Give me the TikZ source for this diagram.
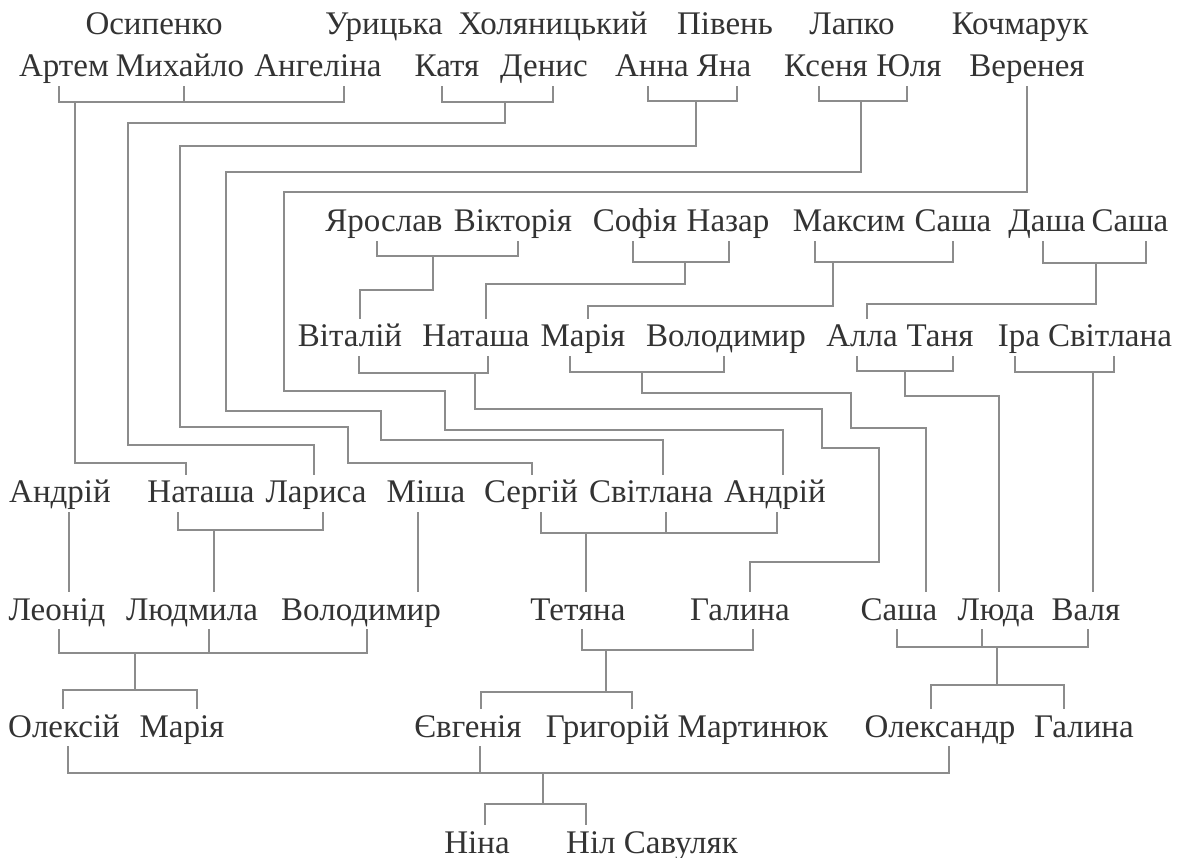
\documentclass[tikz,border=0pt]{standalone}
\usepackage{fontspec}
\setmainfont{Liberation Serif}
\definecolor{txt}{HTML}{333333}
\definecolor{lnc}{HTML}{8C8C8C}
\begin{document}
\begin{tikzpicture}[x=1pt,y=-1pt,
  nm/.style={text=txt,font=\fontsize{33}{33}\selectfont,inner sep=0pt,anchor=base,text height=28pt,text depth=9pt},
  ln/.style={draw=lnc,line width=1.3pt}]
\useasboundingbox[fill=white] (0,0) rectangle (1179,858);
% row 1 (surnames)
\node[nm] (s1) at (154,35) {Осипенко};
\node[nm] (s2) at (384,35) {Урицька};
\node[nm] (s3) at (553,35) {Холяницький};
\node[nm] (s4) at (725,35) {Півень};
\node[nm] (s5) at (852,35) {Лапко};
\node[nm] (s6) at (1020,35) {Кочмарук};
% row 2
\node[nm] (artem) at (64,77) {Артем};
\node[nm] (mykh) at (180,77) {Михайло};
\node[nm] (angel) at (318,77) {Ангеліна};
\node[nm] (katya) at (447,77) {Катя};
\node[nm] (denys) at (544,77) {Денис};
\node[nm] (anna) at (652,77) {Анна};
\node[nm] (yana) at (724,77) {Яна};
\node[nm] (ksenya) at (826,77) {Ксеня};
\node[nm] (yulia) at (909,77) {Юля};
\node[nm] (verenea) at (1027,77) {Веренея};
% row 3
\node[nm] (yaroslav) at (384,232) {Ярослав};
\node[nm] (viktoria) at (513,232) {Вікторія};
\node[nm] (sofia) at (635,232) {Софія};
\node[nm] (nazar) at (728,232) {Назар};
\node[nm] (maksym) at (849,232) {Максим};
\node[nm] (sashaA) at (953,232) {Саша};
\node[nm] (dasha) at (1047,232) {Даша};
\node[nm] (sashaB) at (1130,232) {Саша};
% row 4
\node[nm] (vitaliy) at (350,347) {Віталій};
\node[nm] (natashaA) at (476,347) {Наташа};
\node[nm] (mariaA) at (583,347) {Марія};
\node[nm] (volodA) at (726,347) {Володимир};
\node[nm] (alla) at (862,347) {Алла};
\node[nm] (tanya) at (940,347) {Таня};
\node[nm] (ira) at (1019,347) {Іра};
\node[nm] (svitA) at (1110,347) {Світлана};
% row 5
\node[nm] (andriyA) at (60,503) {Андрій};
\node[nm] (natashaB) at (201,503) {Наташа};
\node[nm] (larysa) at (316,503) {Лариса};
\node[nm] (misha) at (426,503) {Міша};
\node[nm] (serhiy) at (531,503) {Сергій};
\node[nm] (svitB) at (651,503) {Світлана};
\node[nm] (andriyB) at (775,503) {Андрій};
% row 6
\node[nm] (leonid) at (57,620) {Леонід};
\node[nm] (ludmyla) at (192,620) {Людмила};
\node[nm] (volodB) at (361,620) {Володимир};
\node[nm] (tetyana) at (578,620) {Тетяна};
\node[nm] (halynaA) at (740,620) {Галина};
\node[nm] (sashaC) at (899,620) {Саша};
\node[nm] (luda) at (996,620) {Люда};
\node[nm] (valya) at (1086,620) {Валя};
% row 7
\node[nm] (oleksiy) at (64,737) {Олексій};
\node[nm] (mariaB) at (182,737) {Марія};
\node[nm] (yevh) at (468,737) {Євгенія};
\node[nm] (hryh) at (687,737) {Григорій Мартинюк};
\node[nm] (oleksandr) at (940,737) {Олександр};
\node[nm] (halynaB) at (1084,737) {Галина};
% row 8
\node[nm] (nina) at (477,853) {Ніна};
\node[nm] (nil) at (652,853) {Ніл Савуляк};

% --- Osypenko
\draw[ln] ([xshift=-5pt]artem.south) -- (59,102) -| ([xshift=26pt]angel.south);
\draw[ln] ([xshift=4pt]mykh.south) -- (184,102);
\draw[ln] (75,102) |- (186,463) -- ([xshift=-15pt]natashaB.north);
% --- Urytska
\draw[ln] ([xshift=-5pt]katya.south) -- (442,102) -| ([xshift=9pt]denys.south);
\draw[ln] (505,102) |- (128,123) |- (314,445) -- ([xshift=-2pt]larysa.north);
% --- Piven
\draw[ln] ([xshift=-4pt]anna.south) -- (648,101) -| ([xshift=13pt]yana.south);
\draw[ln] (696,101) |- (180,146) |- (348,427) |- (532,463) -- ([xshift=1pt]serhiy.north);
% --- Lapko
\draw[ln] ([xshift=-7pt]ksenya.south) -- (819,101) -| ([xshift=-2pt]yulia.south);
\draw[ln] (861,101) |- (226,172) |- (381,411) |- (663,440) -- ([xshift=12pt]svitB.north);
% --- Kochmaruk
\draw[ln] (verenea.south) |- (284,192) |- (445,391) |- (783,430) -- ([xshift=8pt]andriyB.north);
% --- row 3
\draw[ln] ([xshift=-7pt]yaroslav.south) -- (377,256) -| ([xshift=5pt]viktoria.south);
\draw[ln] (433,256) |- (360,290) -- ([xshift=10pt]vitaliy.north);
\draw[ln] ([xshift=-2pt]sofia.south) -- (633,262) -| ([xshift=1pt]nazar.south);
\draw[ln] (685,262) |- (486,284) -- ([xshift=10pt]natashaA.north);
\draw[ln] ([xshift=-34pt]maksym.south) -- (815,262) -| (sashaA.south);
\draw[ln] (833,262) |- (588,306) -- ([xshift=5pt]mariaA.north);
\draw[ln] ([xshift=-4pt]dasha.south) -- (1043,263) -| ([xshift=16pt]sashaB.south);
\draw[ln] (1096,263) |- (867,304) -- ([xshift=5pt]alla.north);
% --- row 4
\draw[ln] ([xshift=9pt]vitaliy.south) -- (359,373) -| ([xshift=12pt]natashaA.south);
\draw[ln] (475,373) |- (822,409) |- (879,448) |- (750,562) -- ([xshift=10pt]halynaA.north);
\draw[ln] ([xshift=-13pt]mariaA.south) -- (570,372) -| ([xshift=-2pt]volodA.south);
\draw[ln] (642,372) |- (851,393) |- (926,428) -- ([xshift=27pt]sashaC.north);
\draw[ln] ([xshift=-5pt]alla.south) -- (857,371) -| ([xshift=13pt]tanya.south);
\draw[ln] (905,371) |- (999,396) -- ([xshift=3pt]luda.north);
\draw[ln] ([xshift=-4pt]ira.south) -- (1015,372) -| ([xshift=4pt]svitA.south);
\draw[ln] (1093,372) -- ([xshift=7pt]valya.north);
% --- row 5
\draw[ln] ([xshift=9pt]andriyA.south) -- ([xshift=12pt]leonid.north);
\draw[ln] ([xshift=-23pt]natashaB.south) -- (178,530) -| ([xshift=7pt]larysa.south);
\draw[ln] (214,530) -- ([xshift=22pt]ludmyla.north);
\draw[ln] ([xshift=-8pt]misha.south) -- ([xshift=57pt]volodB.north);
\draw[ln] ([xshift=10pt]serhiy.south) -- (541,533) -| ([xshift=2pt]andriyB.south);
\draw[ln] ([xshift=15pt]svitB.south) -- (666,533);
\draw[ln] (586,533) -- ([xshift=8pt]tetyana.north);
% --- row 6
\draw[ln] ([xshift=2pt]leonid.south) -- (59,653) -| ([xshift=6pt]volodB.south);
\draw[ln] ([xshift=17pt]ludmyla.south) -- (209,653);
\draw[ln] (135,653) -- (135,690);
\draw[ln] ([xshift=-1pt]oleksiy.north) -- (63,690) -| ([xshift=15pt]mariaB.north);
\draw[ln] ([xshift=4pt]tetyana.south) -- (582,650) -| ([xshift=13pt]halynaA.south);
\draw[ln] (606,650) -- (606,692);
\draw[ln] ([xshift=13pt]yevh.north) -- (481,692) -| ([xshift=-55pt]hryh.north);
\draw[ln] ([xshift=-2pt]sashaC.south) -- (897,647) -| ([xshift=2pt]valya.south);
\draw[ln] ([xshift=-14pt]luda.south) -- (982,647);
\draw[ln] (997,647) -- (997,685);
\draw[ln] ([xshift=-9pt]oleksandr.north) -- (931,685) -| ([xshift=-20pt]halynaB.north);
% --- row 7
\draw[ln] ([xshift=4pt]oleksiy.south) -- (68,773) -| ([xshift=9pt]oleksandr.south);
\draw[ln] ([xshift=12pt]yevh.south) -- (480,773);
\draw[ln] (543,773) -- (543,804);
\draw[ln] ([xshift=8pt]nina.north) -- (485,804) -| ([xshift=-66pt]nil.north);
\end{tikzpicture}
\end{document}
